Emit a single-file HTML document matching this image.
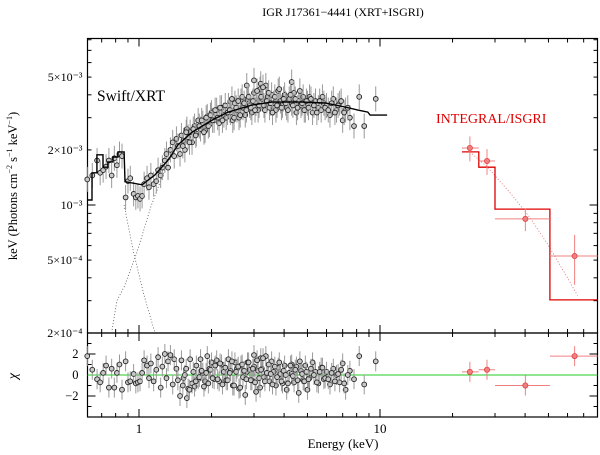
<!DOCTYPE html>
<html><head><meta charset="utf-8"><style>
html,body{margin:0;padding:0;background:#fff;}
svg{display:block;font-family:"Liberation Serif",serif;}
</style></head><body>
<svg id="chart" width="600" height="455" viewBox="0 0 600 455" xmlns="http://www.w3.org/2000/svg">
<text x="343" y="16" font-size="12" text-anchor="middle">IGR J17361−4441 (XRT+ISGRI)</text>
<text transform="translate(17,186) rotate(-90)" font-size="12.5" text-anchor="middle">keV (Photons cm<tspan font-size="8" dy="-5">−2</tspan><tspan dy="5"> s</tspan><tspan font-size="8" dy="-5">−1</tspan><tspan dy="5"> keV</tspan><tspan font-size="8" dy="-5">−1</tspan><tspan dy="5">)</tspan></text>
<text transform="translate(17,376) rotate(-90)" font-size="14" text-anchor="middle" font-style="italic">χ</text>
<text x="343" y="448" font-size="13" text-anchor="middle">Energy (keV)</text>
<text x="97" y="101" font-size="15.5">Swift/XRT</text>
<text x="436" y="123" font-size="14" fill="#e00000">INTEGRAL/ISGRI</text>
<g id="plot"></g>
</svg>
<script>
// ---- data ----
const xrtE = [0.61,0.64,0.67,0.69,0.71,0.73,0.75,0.77,0.79,0.81,0.83,0.85,0.88,0.90,0.92,0.95,0.97,0.99,1.01,1.03,1.05,1.08,1.10,1.12,1.15,1.18,1.20,1.23,1.25,1.28,1.30,1.32,1.35,1.38,1.40,1.43,1.45,1.48,1.50,1.53,1.55,1.58,1.60,1.63,1.66,1.70,1.73,1.76,1.80,1.84,1.88,1.92,1.96,2.0,2.05,2.1,2.15,2.2,2.25,2.3,2.35,2.4,2.45,2.5,2.55,2.6,2.65,2.7,2.76,2.8,2.82,2.88,2.94,3.0,3.0,3.06,3.12,3.18,3.2,3.24,3.3,3.36,3.42,3.48,3.55,3.62,3.7,3.78,3.86,3.94,4.02,4.1,4.2,4.3,4.3,4.4,4.5,4.6,4.7,4.8,4.9,5.0,5.1,5.25,5.4,5.55,5.7,5.85,6.0,6.2,6.4,6.6,6.8,7.0,7.2,7.5,7.8,8.2,8.6,9.6,
 1.52,1.57,1.62,1.68,1.72,1.78,1.82,1.86,1.9,1.94,1.98,2.02,2.07,2.12,2.17,2.22,2.28,2.33,2.38,2.43,2.48,2.53,2.58,2.63,2.68,2.73,2.79,2.85,2.91,2.97,3.03,3.09,3.15,3.21,3.27,3.33,3.39,3.45,3.52,3.58,3.66,3.74,3.82,3.9,3.98,4.06,4.15,4.25,4.35,4.45,4.55,4.65,4.75,4.85,4.95,5.05,5.17,5.32,5.47,5.62,5.77,5.92,6.1,6.3,6.5,6.7,6.9,7.1,7.35];
const xrtFlux = [1.38,1.45,1.75,1.5,1.55,1.62,1.75,1.45,1.8,1.65,1.9,1.85,1.1,1.35,1.4,1.15,1.1,1.12,1.08,1.12,1.3,1.4,1.25,1.45,1.3,1.35,1.55,1.45,1.6,1.75,1.9,1.6,2.0,2.2,1.85,2.3,2.1,1.9,2.4,2.25,2.0,2.6,2.35,2.5,2.2,2.7,2.45,2.9,2.6,2.8,2.55,3.05,2.75,3.2,2.9,3.3,2.8,3.4,3.1,3.0,3.5,3.2,2.9,3.6,3.3,3.0,3.7,3.4,3.1,4.5,3.8,3.5,3.2,4.1,4.8,3.6,3.3,4.3,4.6,3.8,3.5,4.5,3.9,3.4,4.0,3.6,3.3,4.2,3.7,3.5,4.0,3.4,3.8,3.6,4.7,4.1,3.2,3.7,3.5,3.9,3.3,3.6,3.9,3.2,3.7,3.4,3.3,3.6,3.5,3.1,3.8,3.3,3.6,2.9,3.3,3.0,2.7,3.9,2.7,3.8,
 2.1,2.5,2.2,2.6,2.4,2.7,2.9,2.5,3.0,2.7,3.1,2.9,3.3,3.0,3.4,2.9,3.5,3.2,3.3,3.8,3.0,3.4,3.7,3.1,3.9,3.6,3.3,3.9,3.4,3.7,3.3,4.2,3.5,3.9,4.4,3.3,3.7,4.1,3.6,3.2,3.9,3.5,4.3,3.4,3.8,3.6,3.3,4.0,3.5,3.8,3.4,4.2,3.6,3.3,3.7,3.4,3.8,3.5,3.2,3.7,3.9,3.4,3.3,3.6,3.2,3.5,3.7,3.2,3.4];
const xrtChi = [1.8,0.5,-0.4,-0.7,0.2,0.9,-1.2,0.6,-1.2,0.2,1.0,-1.4,1.3,-0.7,-0.6,0.1,-0.8,-0.7,-0.6,0.2,1.4,0.9,-0.3,1.1,-0.6,0.5,1.7,-1.2,0.8,2.0,-0.3,1.3,1.9,-0.9,1.5,0.6,-0.5,-2.0,1.4,-0.3,0.0,-2.2,-1.3,1.5,-0.8,-1.1,0.9,-0.4,1.5,0.2,-0.6,1.8,0.6,1.2,-0.4,1.4,-0.6,1.0,0.3,-0.5,1.5,0.4,-1.0,1.2,0.6,-1.3,0.9,-0.2,-1.9,0.3,1.2,0.5,-0.5,1.9,0.8,-1.6,0.4,-1.2,1.6,0.6,-0.2,1.8,0.2,-0.6,1.3,0.3,-1.0,0.7,0.1,-0.8,0.9,-1.4,0.2,1.0,0.1,-0.7,0.8,-1.7,0.4,-0.5,0.9,-1.4,-0.3,1.2,0.3,-0.8,0.7,-0.4,0.3,-0.9,0.6,0.0,-0.7,1.1,-1.4,0.4,-0.4,1.8,-0.9,1.3,
 -1.0,0.6,-1.4,0.3,-0.6,-0.2,0.4,-1.1,0.2,-0.8,0.5,-0.3,0.9,-0.4,1.1,-0.9,0.7,-0.5,0.2,1.3,-1.0,0.3,0.8,-1.2,1.0,0.4,-0.4,1.2,-0.5,0.6,-0.7,1.4,-0.3,0.5,1.6,-0.6,0.2,1.0,0.1,-0.9,0.8,-0.2,1.2,-0.6,0.4,0.0,-0.8,0.9,-0.1,0.5,-0.5,1.3,0.1,-0.6,0.3,-0.4,0.6,0.0,-0.7,0.3,0.7,-0.3,-0.4,0.2,-0.6,0.1,0.5,-0.8,0.0];
const xrtModelE = [0.61,0.638,0.669,0.709,0.743,0.780,0.818,0.867,0.875,1.03,1.165,1.32,1.45,1.66,2.01,2.34,2.94,3.56,4.75,5.91,7.16,8.10,8.9,9.1,10.7];
const xrtModelV = [1.065,1.50,1.88,1.61,1.72,1.83,1.95,1.95,1.34,1.29,1.46,1.76,2.13,2.50,2.91,3.22,3.52,3.65,3.65,3.61,3.43,3.30,3.22,3.10,3.10];
const compAE = [0.867,0.95,1.05,1.165];
const compAV = [1.0,0.55,0.32,0.2];
const compBE = [0.77,0.81,0.87,0.98,1.12,1.3,1.45];
const compBV = [0.2,0.3,0.36,0.55,0.98,1.65,2.13];
const isgE = [23.6,27.8,40.1,64.2];
const isgLo = [21.9,25.7,30.0,50.7];
const isgHi = [25.7,30.0,50.7,80];
const isgFlux = [2.05,1.74,0.84,0.526];
const isgErr = [0.32,0.28,0.12,0.16];
const isgModel = [1.95,1.61,0.95,0.303];
const isgChi = [0.3,0.5,-1.0,1.8];
const isgCompE = [23.6,27.8,35,42,50,60,66];
const isgCompV = [1.95,1.62,1.15,0.85,0.6,0.4,0.32];
const yTickLabels = ["2×10⁻⁴","5×10⁻⁴","10⁻³","2×10⁻³","5×10⁻³"];
const yTickVals = [2e-4,5e-4,1e-3,2e-3,5e-3];
const xTickVals = [1,10];
const chiTicks = [-2,0,2];

// ---- axes ----
const L=87.5,R=597.5,T=38.5,M=333,B=417;
const X = e => 139 + 241*Math.log10(e);
const Y = v => 205 - 183*Math.log10(v/1e-3);
const Yk = v => Y(v*1e-3);
const C = c => 375 - 10.5*c;
const NS="http://www.w3.org/2000/svg";
const g=document.getElementById('plot');
function mk(tag,attrs,parent){const el=document.createElementNS(NS,tag);for(const k in attrs)el.setAttribute(k,attrs[k]);(parent||g).appendChild(el);return el;}

let f1=mk('rect',{x:L,y:T,width:R-L,height:M-T,fill:'none',stroke:'#000','stroke-width':1.2});


let f2=mk('rect',{x:L,y:M,width:R-L,height:B-M,fill:'none',stroke:'#000','stroke-width':1.2});



const xt=mk('g',{stroke:'#000','stroke-width':1});


for(const dec of [0.1,1,10]){for(let k=1;k<10;k++){const e=k*dec;const x=X(e);if(x<L+1||x>R-1)continue;const len=(k===1)?8:4;
 for(const [y0,dir] of [[T,1],[M,-1],[M,1],[B,-1]]){mk('line',{x1:x,x2:x,y1:y0,y2:y0+dir*len},xt);}}}
xTickVals.forEach(v=>{const t=mk('text',{x:X(v),y:B+16,'font-size':13,'text-anchor':'middle'});t.textContent=String(v);
 
 });
const yt=mk('g',{stroke:'#000','stroke-width':1});


for(const dec of [1e-4,1e-3]){for(let k=1;k<10;k++){const v=k*dec;const y=Y(v);if(y<T+1||y>M-1)continue;const len=(k===1)?8:4;
 mk('line',{x1:L,x2:L+len,y1:y,y2:y},yt);mk('line',{x1:R,x2:R-len,y1:y,y2:y},yt);}}
yTickVals.forEach((v,i)=>{const t=mk('text',{x:L-5,y:Y(v)+4,'font-size':12,'text-anchor':'end'});t.textContent=yTickLabels[i];
 
 });
for(let c=-3;c<=3;c++){const len=(c%2===0)?8:4;mk('line',{x1:L,x2:L+len,y1:C(c),y2:C(c)},yt);mk('line',{x1:R,x2:R-len,y1:C(c),y2:C(c)},yt);}
chiTicks.forEach(c=>{const t=mk('text',{x:L-9,y:C(c)+4,'font-size':12.5,'text-anchor':'end'});t.textContent=c<0?'−'+(-c):String(c);
 
 });

let zl=mk('line',{x1:L,x2:R,y1:C(0),y2:C(0),stroke:'#22cc22','stroke-width':1});



function poly(Es,Vs,yf,attrs,name){const p=Es.map((e,i)=>X(e).toFixed(1)+','+yf(Vs[i]).toFixed(1)).join(' ');const el=mk('polyline',Object.assign({points:p,fill:'none'},attrs));
 
 return el;}
poly(compAE,compAV,Yk,{stroke:'#555','stroke-width':0.8,'stroke-dasharray':'1,2'},'xrt-component-soft');
poly(compBE,compBV,Yk,{stroke:'#555','stroke-width':0.8,'stroke-dasharray':'1,2'},'xrt-component-hard');
poly(isgCompE,isgCompV,Yk,{stroke:'#e06060','stroke-width':0.8,'stroke-dasharray':'1,2'},'isgri-component');

const pts=mk('g',{});


xrtE.forEach((e,i)=>{const v=xrtFlux[i];if(v===undefined)return;const x=X(e),y=Yk(v);
 mk('line',{x1:x,x2:x,y1:Yk(v*1.17),y2:Yk(v/1.17),stroke:'#999','stroke-width':1},pts);
 mk('line',{x1:x-2,x2:x+2,y1:y,y2:y,stroke:'#999','stroke-width':1},pts);
 const c=mk('circle',{cx:x,cy:y,r:2.4,fill:'#c8c8c8',stroke:'#222','stroke-width':0.9},pts);
 
 
 const r=xrtChi[i]; if(r!==undefined){const yc=C(r);
 mk('line',{x1:x,x2:x,y1:yc-10,y2:yc+10,stroke:'#999','stroke-width':1},pts);
 const c2=mk('circle',{cx:x,cy:yc,r:2.4,fill:'#c8c8c8',stroke:'#222','stroke-width':0.9},pts);
 
 }
});
let step=[];xrtModelE.forEach((e,i)=>{if(i<8){step.push([e,xrtModelV[i]]);if(i<7)step.push([xrtModelE[i+1],xrtModelV[i]]);}else step.push([e,xrtModelV[i]]);});
poly(step.map(s=>s[0]),step.map(s=>s[1]),Yk,{stroke:'#000','stroke-width':1.4},'xrt-model');

const ig=mk('g',{});


let sp=[];isgE.forEach((e,i)=>{sp.push(X(isgLo[i]).toFixed(1)+','+Yk(isgModel[i]).toFixed(1));sp.push(X(isgHi[i]).toFixed(1)+','+Yk(isgModel[i]).toFixed(1));});
let im=mk('polyline',{points:sp.join(' '),fill:'none',stroke:'#dd0000','stroke-width':1.3},ig);


isgE.forEach((e,i)=>{const x=X(e),y=Yk(isgFlux[i]);
 mk('line',{x1:X(isgLo[i]),x2:X(isgHi[i]),y1:y,y2:y,stroke:'#f08080','stroke-width':1},ig);
 mk('line',{x1:x,x2:x,y1:Yk(isgFlux[i]+isgErr[i]),y2:Yk(isgFlux[i]-isgErr[i]),stroke:'#f08080','stroke-width':1},ig);
 const c=mk('circle',{cx:x,cy:y,r:2.6,fill:'#f08080',stroke:'#e04040','stroke-width':0.8},ig);
 
 
 const yc=C(isgChi[i]);
 mk('line',{x1:X(isgLo[i]),x2:X(isgHi[i]),y1:yc,y2:yc,stroke:'#f08080','stroke-width':1},ig);
 mk('line',{x1:x,x2:x,y1:yc-10,y2:yc+10,stroke:'#f08080','stroke-width':1},ig);
 const c2=mk('circle',{cx:x,cy:yc,r:2.6,fill:'#f08080',stroke:'#e04040','stroke-width':0.8},ig);
 
 
});
</script>
</body></html>
